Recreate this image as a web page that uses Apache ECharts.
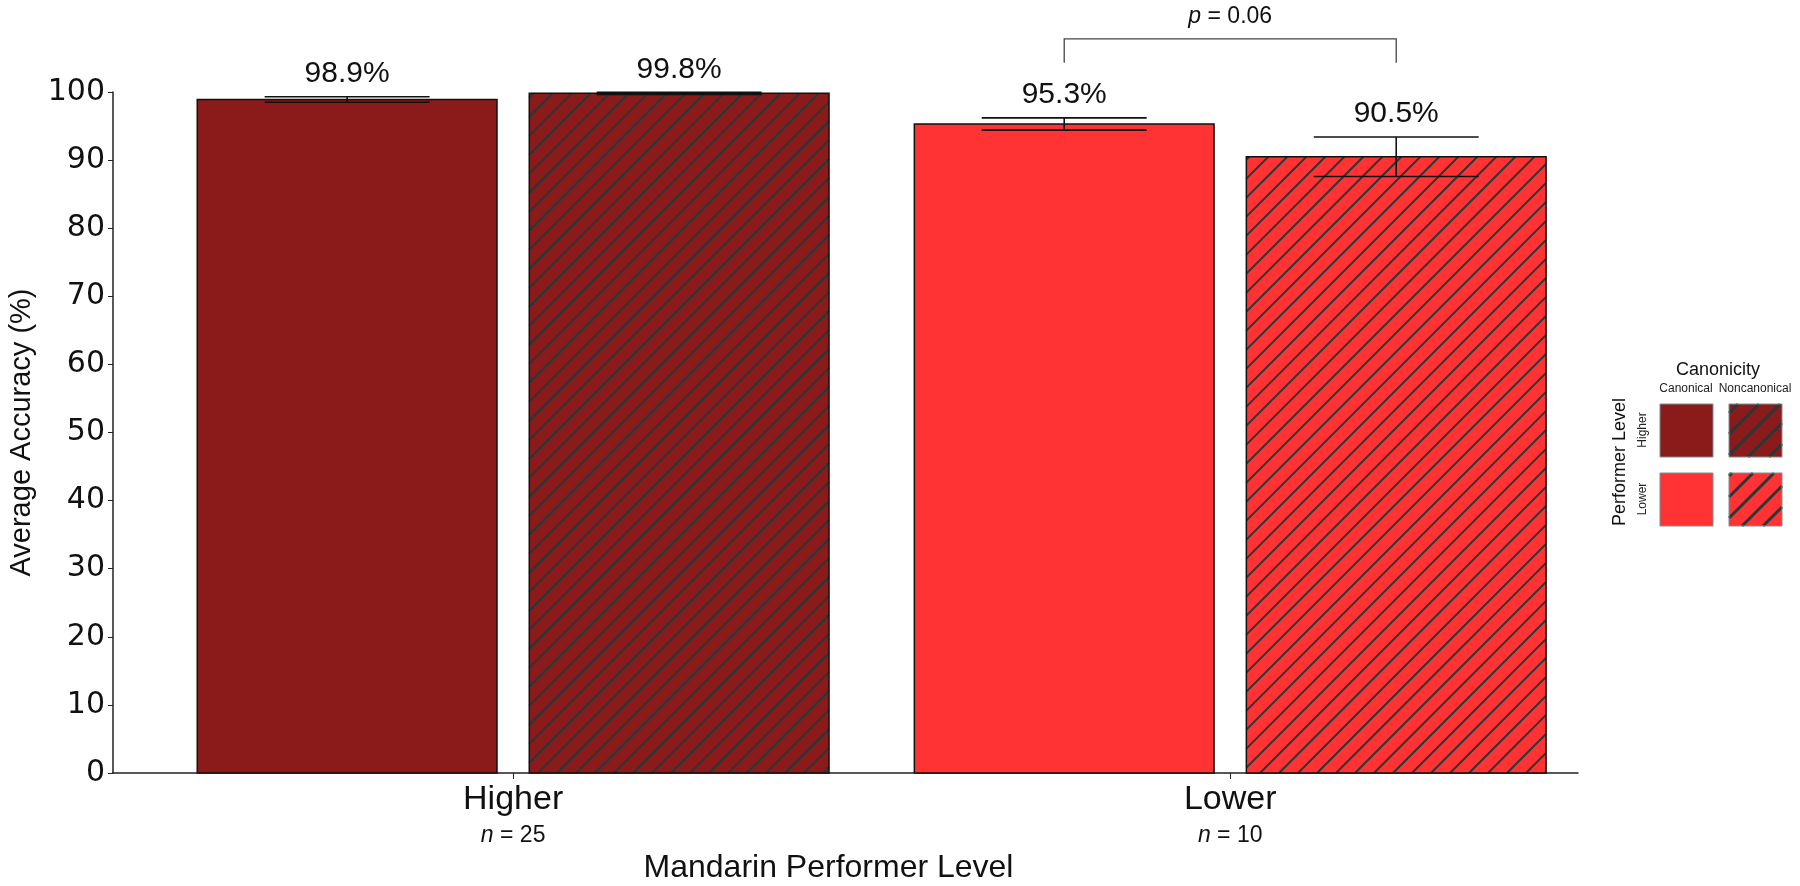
<!DOCTYPE html>
<html>
<head>
<meta charset="utf-8">
<title>Average Accuracy by Mandarin Performer Level</title>
<script src="https://cdn.jsdelivr.net/npm/echarts@6.0.0/dist/echarts.min.js"></script>
<style>
  html, body { margin: 0; padding: 0; background: #fff; }
  #main { width: 1800px; height: 886px; }
</style>
</head>
<body>
<div id="main"></div>
<script>
// performer levels (x axis) and group sizes
var levels = ['Higher', 'Lower'];
var levelN = [25, 10];
// canonicity (two bars per level)
var canonicity = ['Canonical', 'Noncanonical'];
var canonicalAcc = [98.9, 95.3];
var canonicalErr = [0.4, 0.9];
var noncanonicalAcc = [99.8, 90.5];
var noncanonicalErr = [0.15, 2.9];
// significance bracket on the Lower level: leg bottom / bracket top (in %)
var pLevel = 1;
var pBracket = [104.3, 107.8];
var pText = '0.06';

var levelColors = ['#8b1a1a', '#ff3333'];
var hatchColor = '#263838';
var narrow = '"Liberation Sans Narrow", "Liberation Sans", sans-serif';
var BAR_W = 0.418, BAR_OFF = 0.2315, CAP = 0.115;

function hatch(x0, y0, x1, y1, step, width) {
	var out = [];
	var c = Math.ceil((x0 + y0) / step) * step;
	for (; c <= x1 + y1; c += step) {
		var xa = Math.max(x0, c - y1), xb = Math.min(x1, c - y0);
		if (xb - xa > 0.5) {
			out.push({
				type: 'line', silent: true,
				shape: { x1: xa, y1: c - xa, x2: xb, y2: c - xb },
				style: { stroke: hatchColor, lineWidth: width }
			});
		}
	}
	return out;
}

function barRender(k) {
	return function (params, api) {
		var g = api.value(0), v = api.value(1), e = api.value(2);
		var unit = api.size([1, 0])[0];
		var cx = api.coord([g, 0])[0] + (k === 0 ? -1 : 1) * BAR_OFF * unit;
		var half = BAR_W * unit / 2;
		var top = api.coord([g, v])[1], base = api.coord([g, 0])[1];
		var x0 = cx - half, x1 = cx + half;
		var children = [{
			type: 'rect',
			shape: { x: x0, y: top, width: 2 * half, height: base - top },
			style: { fill: levelColors[g] }
		}];
		if (k === 1) children = children.concat(hatch(x0, top, x1, base, 19, 2));
		children.push({
			type: 'rect',
			shape: { x: x0, y: top, width: 2 * half, height: base - top },
			style: { fill: 'none', stroke: '#111', lineWidth: 1.5 }
		});
		var eHi = api.coord([g, v + e])[1], eLo = api.coord([g, v - e])[1];
		var cap = CAP * unit;
		var eStyle = { stroke: '#111', lineWidth: 1.6 };
		children.push({ type: 'line', shape: { x1: cx, y1: eHi, x2: cx, y2: eLo }, style: eStyle });
		children.push({ type: 'line', shape: { x1: cx - cap, y1: eHi, x2: cx + cap, y2: eHi }, style: eStyle });
		children.push({ type: 'line', shape: { x1: cx - cap, y1: eLo, x2: cx + cap, y2: eLo }, style: eStyle });
		children.push({
			type: 'text',
			x: cx, y: eHi - 8,
			style: {
				text: v.toFixed(1) + '%',
				fontSize: 30, fontFamily: '"Liberation Sans", Arial, sans-serif',
				fill: '#111', align: 'center', verticalAlign: 'bottom'
			}
		});
		return { type: 'group', children: children };
	};
}

function bracketRender(params, api) {
	var g = api.value(0);
	var unit = api.size([1, 0])[0];
	var cx = api.coord([g, 0])[0];
	var xa = cx - BAR_OFF * unit, xb = cx + BAR_OFF * unit;
	var yLeg = api.coord([g, api.value(1)])[1];
	var yTop = api.coord([g, api.value(2)])[1];
	return {
		type: 'group',
		children: [{
			type: 'polyline',
			shape: { points: [[xa, yLeg], [xa, yTop], [xb, yTop], [xb, yLeg]] },
			style: { stroke: '#444', lineWidth: 1.3, fill: 'none' }
		}, {
			type: 'text',
			x: (xa + xb) / 2, y: yTop - 11,
			style: {
				text: '{i|p}{t| = ' + pText + '}',
				align: 'center', verticalAlign: 'bottom',
				rich: {
					i: { fontSize: 23, fontStyle: 'italic', fontFamily: '"Liberation Sans", Arial', fill: '#111' },
					t: { fontSize: 23, fontFamily: '"Liberation Sans", Arial', fill: '#111' }
				}
			}
		}]
	};
}

// legend: 2x2 grid of swatches
var LX = [1660, 1729], LY = [404, 473], LS = 53;
var legendChildren = [
	{ type: 'text', x: 1718, y: 370, style: { text: 'Canonicity', fontSize: 18, fontFamily: narrow, fill: '#111', align: 'center', verticalAlign: 'middle' } },
	{ type: 'text', x: 1686, y: 389, style: { text: canonicity[0], fontSize: 12, fontFamily: narrow, fill: '#222', align: 'center', verticalAlign: 'middle' } },
	{ type: 'text', x: 1755, y: 389, style: { text: canonicity[1], fontSize: 12, fontFamily: narrow, fill: '#222', align: 'center', verticalAlign: 'middle' } },
	{ type: 'text', x: 1620, y: 462, rotation: Math.PI / 2, style: { text: 'Performer Level', fontSize: 18, fontFamily: narrow, fill: '#111', align: 'center', verticalAlign: 'middle' } },
	{ type: 'text', x: 1643, y: 430, rotation: Math.PI / 2, style: { text: levels[0], fontSize: 12, fontFamily: narrow, fill: '#222', align: 'center', verticalAlign: 'middle' } },
	{ type: 'text', x: 1643, y: 499, rotation: Math.PI / 2, style: { text: levels[1], fontSize: 12, fontFamily: narrow, fill: '#222', align: 'center', verticalAlign: 'middle' } }
];
for (var r = 0; r < 2; r++) {
	for (var c = 0; c < 2; c++) {
		legendChildren.push({ type: 'rect', shape: { x: LX[c], y: LY[r], width: LS, height: LS }, style: { fill: levelColors[r] } });
		if (c === 1) legendChildren = legendChildren.concat(hatch(LX[c], LY[r], LX[c] + LS, LY[r] + LS, 21, 3));
		legendChildren.push({ type: 'rect', shape: { x: LX[c], y: LY[r], width: LS, height: LS }, style: { fill: 'none', stroke: '#7a8f92', lineWidth: 1 } });
	}
}

var chart = echarts.init(document.getElementById('main'));
var option = {
	backgroundColor: '#fff',
	animation: false,
	grid: { left: 113, right: 222, top: 92, bottom: 113, containLabel: false, outerBoundsMode: 'none' },
	xAxis: {
		type: 'value',
		min: -0.558,
		max: 1.485,
		name: 'Mandarin Performer Level',
		nameLocation: 'middle',
		nameGap: 72,
		nameTextStyle: { fontSize: 32, fontFamily: narrow, color: '#111', padding: [0, 34, 0, 0] },
		axisLine: { show: true, onZero: false, lineStyle: { color: '#222', width: 1.5 } },
		axisTick: { show: true, length: 6, customValues: [0, 1], lineStyle: { color: '#222' } },
		splitLine: { show: false },
		axisLabel: {
			customValues: [0, 1],
			margin: 6,
			formatter: function (val) {
				var i = Math.round(val);
				return '{g|' + levels[i] + '}\n{n|n}{m| = ' + levelN[i] + '}';
			},
			rich: {
				g: { fontSize: 34, fontFamily: narrow, color: '#111', lineHeight: 42 },
				n: { fontSize: 23, fontFamily: narrow, fontStyle: 'italic', color: '#111', lineHeight: 30 },
				m: { fontSize: 23, fontFamily: narrow, color: '#111', lineHeight: 30 }
			}
		}
	},
	yAxis: {
		type: 'value',
		min: 0,
		max: 100,
		interval: 10,
		name: 'Average Accuracy (%)',
		nameLocation: 'middle',
		nameGap: 71,
		nameTextStyle: { fontSize: 29, fontFamily: narrow, color: '#111' },
		axisLine: { show: true, onZero: false, lineStyle: { color: '#222', width: 1.5 } },
		axisTick: { show: true, length: 5, lineStyle: { color: '#222' } },
		splitLine: { show: false },
		axisLabel: { fontSize: 30, fontFamily: '"DejaVu Sans", Verdana, sans-serif', color: '#111', margin: 8 }
	},
	graphic: [{ type: 'group', children: legendChildren }],
	series: [
		{
			name: canonicity[0],
			type: 'custom',
			renderItem: barRender(0),
			data: canonicalAcc.map(function (v, i) { return [i, v, canonicalErr[i]]; }),
			z: 2
		},
		{
			name: canonicity[1],
			type: 'custom',
			renderItem: barRender(1),
			data: noncanonicalAcc.map(function (v, i) { return [i, v, noncanonicalErr[i]]; }),
			z: 2
		},
		{
			name: 'p',
			type: 'custom',
			renderItem: bracketRender,
			data: [[pLevel, pBracket[0], pBracket[1]]],
			z: 3
		}
	]
};
chart.setOption(option);
</script>
</body>
</html>
